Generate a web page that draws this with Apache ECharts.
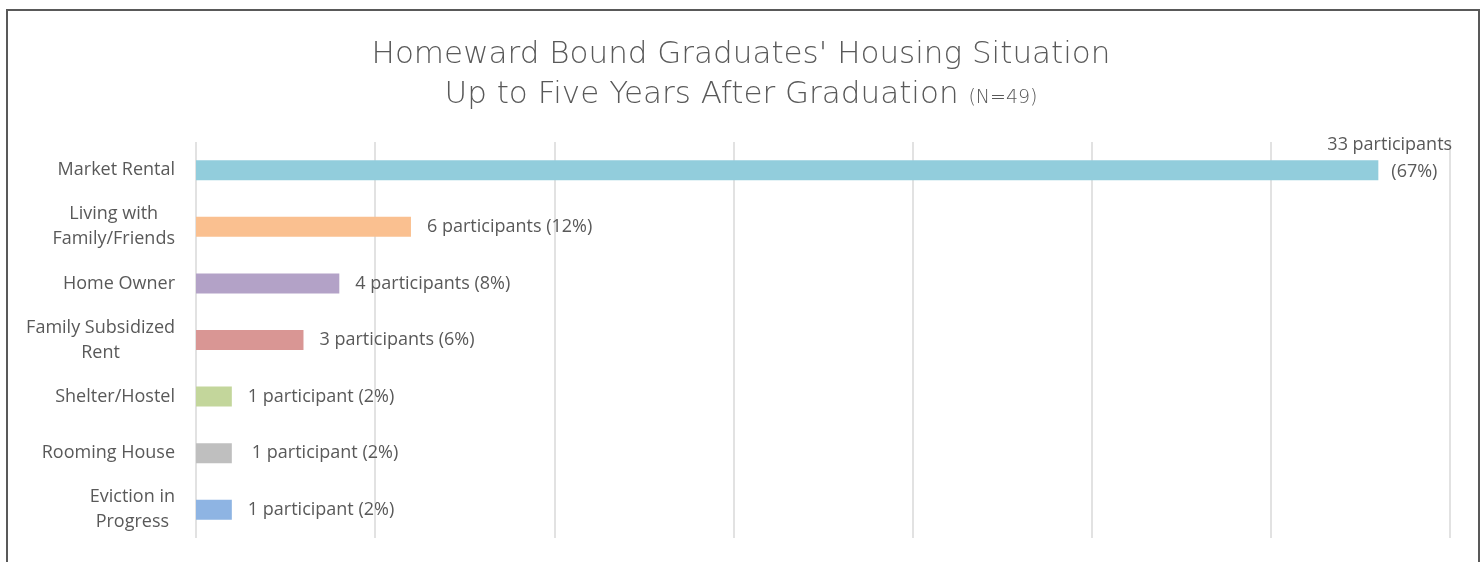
<!DOCTYPE html>
<html>
<head>
<meta charset="utf-8">
<script src="https://cdn.jsdelivr.net/npm/echarts@6/dist/echarts.min.js"></script>
<style>
  html, body { margin: 0; padding: 0; background: #fff; }
  #chart { width: 1482px; height: 562px; }
</style>
</head>
<body>
<div id="chart"></div>
<script>
const categories = [
  "Market Rental",
  "Living with\nFamily/Friends",
  "Home Owner",
  "Family Subsidized\nRent",
  "Shelter/Hostel",
  "Rooming House",
  "Eviction in\nProgress"
];
const participants = [33, 6, 4, 3, 1, 1, 1];
const percents = [67, 12, 8, 6, 2, 2, 2];
const barColors = ["#92CDDC", "#FAC090", "#B3A2C7", "#D99694", "#C3D69B", "#BFBFBF", "#8EB4E3"];
const xTicks = [0, 5, 10, 15, 20, 25, 30, 35];

const myChart = echarts.init(document.getElementById("chart"));
const labelFont = "Open Sans";

function labelText(i) {
  const word = participants[i] === 1 ? "participant" : "participants";
  return participants[i] + " " + word + " (" + percents[i] + "%)";
}

const data = participants.map(function (v, i) {
  const item = {
    value: v,
    itemStyle: { color: barColors[i] }
  };
  if (i === 0) {
    item.label = {
      formatter: "{a|" + v + " participants}\n{b|(" + percents[i] + "%)}",
      offset: [-67, -12]
    };
  }
  if (i === 5) {
    item.label = { offset: [4, 0] };
  }
  return item;
});

const option = {
  animation: false,
  title: {
    text: "Homeward Bound Graduates' Housing Situation\nUp to Five Years After Graduation {s|(N=49)}",
    left: "center",
    top: 30,
    textStyle: {
      fontFamily: "DejaVu Sans",
      fontWeight: 200,
      fontSize: 31,
      color: "#595959",
      lineHeight: 40,
      rich: {
        s: { fontFamily: "DejaVu Sans", fontWeight: 200, fontSize: 19, color: "#595959", padding: [6, 0, 0, 0] }
      }
    }
  },
  graphic: [{
    type: "rect",
    shape: { x: 7, y: 10, width: 1472, height: 600 },
    style: { fill: "none", stroke: "#595959", lineWidth: 2 }
  }],
  grid: { left: 196, right: 32, top: 142, bottom: 24 },
  xAxis: {
    type: "value",
    min: 0,
    max: xTicks[xTicks.length - 1],
    interval: 5,
    axisLabel: { show: false },
    axisLine: { show: false },
    axisTick: { show: false },
    splitLine: { show: true, lineStyle: { color: "#d9d9d9", width: 1.5 } }
  },
  yAxis: {
    type: "category",
    inverse: true,
    data: categories,
    axisLine: { show: false },
    axisTick: { show: false },
    axisLabel: {
      margin: 21,
      fontFamily: labelFont,
      fontSize: 18,
      color: "#595959",
      lineHeight: 25,
      formatter: function (v) {
        return v.split("\n").map(function (s) { return "{c|" + s + "}"; }).join("\n");
      },
      rich: { c: { align: "center", fontFamily: labelFont, fontSize: 18, color: "#595959", lineHeight: 25 } }
    }
  },
  series: [{
    type: "bar",
    data: data,
    barWidth: 20,
    label: {
      show: true,
      position: "right",
      distance: 16,
      fontFamily: labelFont,
      fontSize: 18,
      color: "#595959",
      formatter: function (p) { return labelText(p.dataIndex); },
      rich: {
        a: { fontFamily: labelFont, fontSize: 18, color: "#595959", lineHeight: 27 },
        b: { fontFamily: labelFont, fontSize: 18, color: "#595959", lineHeight: 27, padding: [0, 0, 0, 64] }
      }
    }
  }]
};

myChart.setOption(option);
</script>
</body>
</html>
